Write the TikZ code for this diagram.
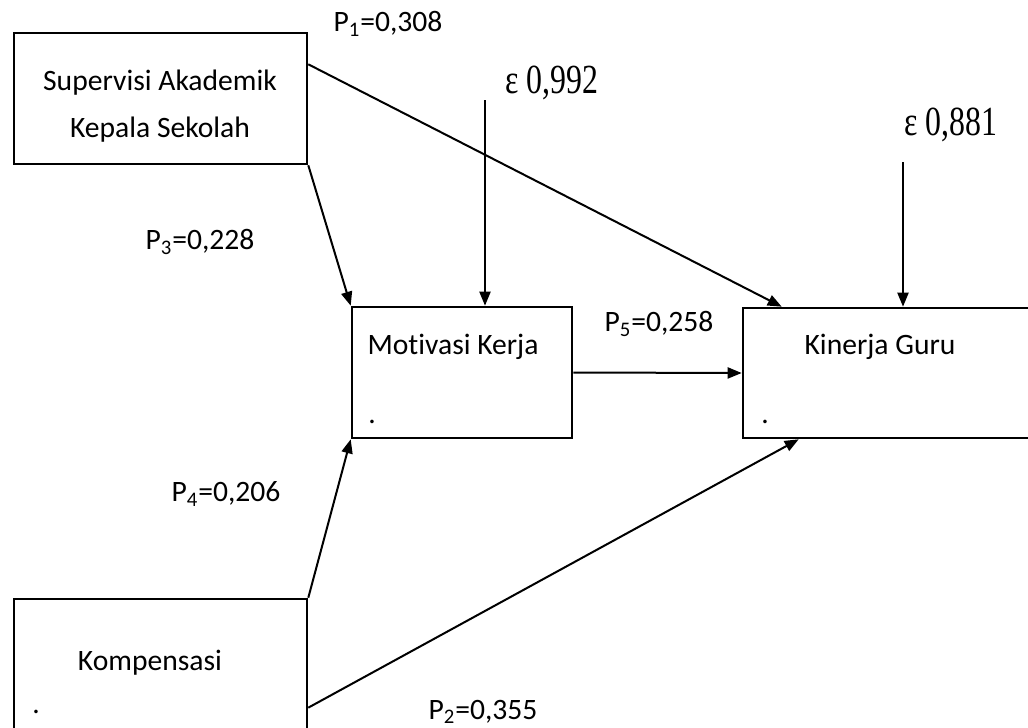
\documentclass[tikz,border=0pt]{standalone}
\usepackage{fontspec}
\setmainfont{Carlito}[Ligatures=CommonOff]
\newfontfamily\serifeps[FakeStretch=0.77]{Liberation Serif}
\usetikzlibrary{arrows.meta,calc}

\begin{document}
\begin{tikzpicture}[x=0.5pt,y=-0.5pt,
	kotak/.style={draw,line width=1.3pt,inner sep=0pt},
	panah/.style={line width=1pt,-{Triangle[length=7pt,width=5.5pt]}},
	teks/.style={font=\fontsize{14.8}{23.5}\selectfont,inner sep=0pt,align=center},
	eps/.style={font=\serifeps\fontsize{20.7}{24}\selectfont,inner sep=0pt}]
	\useasboundingbox (0,0) rectangle (1028,728);
	\clip (0,0) rectangle (1028,728);
	\begin{scope}[every node/.style={kotak}]
	\node[minimum width=146.5pt,minimum height=65.5pt] (SA) at (160.5,98.5) {};
	\node[minimum width=110pt,minimum height=65.5pt] (MK) at (462,372.5) {};
	\node[minimum width=148.5pt,minimum height=65pt] (KG) at (891.5,373) {};
	\node[minimum width=146.5pt,minimum height=73pt] (KP) at (160.5,672) {};
	\end{scope}
	% isi kotak
	\node[teks] (tSA) at (160,106) {Supervisi Akademik\\Kepala Sekolah};
	\node[teks] (tMK) at (453,347) {Motivasi Kerja};
	\node[teks] (tKG) at (880,347) {Kinerja Guru};
	\node[teks] (tKP) at (150,663) {Kompensasi};
	\node[teks] (dMK) at (372,422) {.};
	\node[teks] (dKG) at (765,422) {.};
	\node[teks] (dKP) at (36,712) {.};
	% galat
	\coordinate (e1) at (485,100);
	\coordinate (e2) at (903,162);
	\node[eps] (ep1) at (552,83) {ε 0,992};
	\node[eps] (ep2) at (951,125) {ε 0,881};
	% jalur
	\draw [panah] ($(SA.north east)!0.244!(SA.south east)$) -- ([xshift=20pt]KG.north west);
	\draw [panah] (SA.south east) -- (MK.north west);
	\draw [panah] (e1) -- (e1 |- MK.north);
	\draw [panah] (e2) -- (e2 |- KG.north);
	\draw [panah] (MK.east) -- (KG.west);
	\draw [panah] (KP.north east) -- (MK.south west);
	\draw [panah] ($(KP.north east)!0.74!(KP.south east)$) -- ([xshift=28.5pt]KG.south west);
	% koefisien
	\node[teks] (p1) at (388,24) {P\textsubscript{1}=0,308};
	\node[teks] (p3) at (200,242) {P\textsubscript{3}=0,228};
	\node[teks] (p4) at (226,494) {P\textsubscript{4}=0,206};
	\node[teks] (p5) at (659,324) {P\textsubscript{5}=0,258};
	\node[teks] (p2) at (483,712) {P\textsubscript{2}=0,355};
\end{tikzpicture}
\end{document}
